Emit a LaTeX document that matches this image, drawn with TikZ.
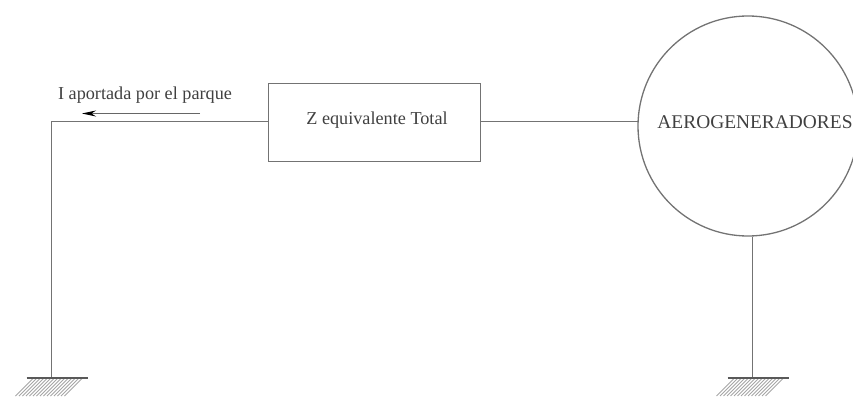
\documentclass[tikz,border=0pt]{standalone}
\usepackage{fontspec}
\setmainfont{Liberation Serif}
\usetikzlibrary{arrows.meta,positioning}
\tikzset{
  wire/.style={draw=black!55,line width=1.3pt},
  lbl/.style={inner sep=0pt,font=\fontsize{18.2}{20}\selectfont,text=black!75},
  hatchline/.style={draw=black!35,line width=0.8pt}
}
\newcommand{\groundat}[1]{%
  \foreach \d in {0,3.5,...,52}{
    \draw[hatchline] ([xshift={-18pt+\d*1pt}]#1) -- ([xshift={-36pt+\d*1pt},yshift=-18pt]#1);
  }
  \draw[draw=black!65,line width=1.2pt] ([xshift=-25pt]#1) -- ([xshift=36pt]#1);
}
\begin{document}
\begin{tikzpicture}[x=1pt,y=-1pt]
\useasboundingbox (0,0) rectangle (853,401);
\clip (0,0) rectangle (853,401);
\node[wire,rectangle,minimum width=212pt,minimum height=78pt,inner sep=0pt] (box) at (374.5,122.5) {};
\node[lbl] (boxt) at (377,120) {Z equivalente Total};
\node[wire,circle,minimum size=220pt,inner sep=0pt] (gen) at (748,126) {};
\node[lbl,font=\fontsize{19.4}{20}\selectfont] (gent) at (755,122) {AEROGENERADORES};
\node[lbl] (cur) at (145,95) {I aportada por el parque};
\coordinate (corner) at (51.5,121.5);
\coordinate (gl) at (51.5,378);
\coordinate (gr) at (752.5,378);
\coordinate (boxw) at (box.west|-corner);
\coordinate (genw) at (638,121.5);
\coordinate (boxe) at (box.east|-corner);
\coordinate (as) at (200,113.5);
\coordinate (ae) at (82,113.5);
\draw[wire] (gl) -- (corner) -- (boxw);
\draw[wire] (boxe) -- (genw);
\draw[wire] (gen.south-|gr) -- (gr);
\draw[draw=black!60,line width=1pt,-{Stealth[length=14pt,width=6pt,color=black,fill=black]}] (as) -- (ae);
\groundat{gl}
\groundat{gr}
\end{tikzpicture}
\end{document}
